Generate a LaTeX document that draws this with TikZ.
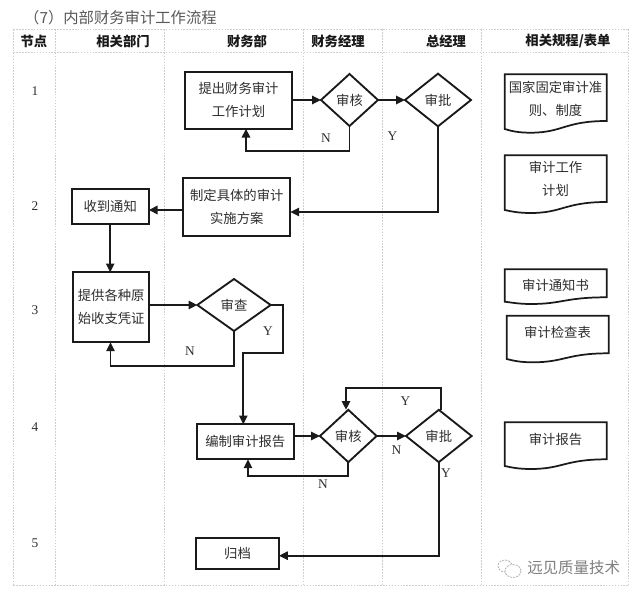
\documentclass[tikz,border=0pt]{standalone}
\usepackage{fontspec}
\setmainfont{Noto Sans CJK SC}
\newfontfamily\serifen{Liberation Serif}
\usetikzlibrary{arrows.meta,shapes.geometric,calc}
\definecolor{ink}{HTML}{1A1A1A}
\definecolor{txt}{HTML}{2E2E2E}
\definecolor{grid}{HTML}{CDCDCD}
\newcommand\docshape[6]{%
  \pgfmathsetmacro\dxa{#3-42}\pgfmathsetmacro\dxb{#1+58}\pgfmathsetmacro\dxc{#1+26}%
  \pgfmathsetmacro\dxd{#1+14}\pgfmathsetmacro\dxe{#1+7}\pgfmathsetmacro\dye{#6-1.5}%
  \draw[docline] (#1,#2) -- (#3,#2) -- (#3,#4)
    .. controls (\dxa,#4) and (\dxb,#6) .. (\dxc,#6)
    .. controls (\dxd,#6) and (\dxe,\dye) .. (#1,#5) -- cycle;}
\tikzset{
  gridline/.style={draw=grid,line width=0.45pt,dash pattern=on 1.2pt off 1pt},
  boxnode/.style={draw=ink,line width=1.4pt,rectangle,inner sep=0pt,outer sep=0pt,text=txt,
    align=center,font=\fontsize{10}{17.25}\selectfont},
  dia/.style={draw=ink,line width=1.4pt,diamond,inner sep=0pt,outer sep=0pt,text=txt,
    font=\fontsize{10}{12}\selectfont},
  docline/.style={draw=ink,line width=1.3pt,line join=miter},
  doctext/.style={text=txt,align=center,inner sep=0pt,font=\fontsize{10}{17.25}\selectfont},
  head/.style={text=black!90,inner sep=0pt,font=\fontsize{10}{12}\selectfont\bfseries},
  num/.style={text=txt,inner sep=0pt,font=\fontsize{10}{12}\serifen\selectfont},
  lab/.style={text=txt,inner sep=0pt,font=\fontsize{10}{12}\serifen\selectfont},
  flow/.style={draw=ink,line width=1.35pt,-{Triangle[length=6.6pt,width=6.2pt]}}
}
\begin{document}
\begin{tikzpicture}[x=0.75pt,y=-0.75pt]
\useasboundingbox (0,0) rectangle (640,596);
\fill[white] (0,0) rectangle (640,596);
% table grid
\foreach \gx in {13.3,55.7,164.3,303.3,382.3,481.7,628.3}
  \draw[gridline] (\gx,29.3) -- (\gx,585.3);
\foreach \gy in {29.3,52.3,585.3}
  \draw[gridline] (13.3,\gy) -- (628.3,\gy);
% title
\node[anchor=east,inner sep=0pt,text=black!65,font=\fontsize{11.5}{14}\selectfont] (title) at (217,18) {（7）内部财务审计工作流程};
% header
\node[head] (h1) at (34,41) {节点};
\node[head] (h2) at (123,41) {相关部门};
\node[head] (h3) at (247,41) {财务部};
\node[head] (h4) at (338,41) {财务经理};
\node[head] (h5) at (446,41) {总经理};
\node[head] (h6) at (568,41) {相关规程/表单};
% node numbers
\node[num] (n1) at (35,91) {1};
\node[num] (n2) at (35,206) {2};
\node[num] (n3) at (35,310) {3};
\node[num] (n4) at (35,427) {4};
\node[num] (n5) at (35,543) {5};
% process boxes
\node[boxnode,minimum width=80.25pt,minimum height=42.75pt] (A) at (238.5,100.2) {提出财务审计\\工作计划};
\node[boxnode,minimum width=80.25pt,minimum height=43.5pt] (D) at (236.8,206.7) {制定具体的审计\\实施方案};
\node[boxnode,minimum width=57.75pt,minimum height=26.25pt] (E) at (110.2,206.8) {收到通知};
\node[boxnode,minimum width=57.25pt,minimum height=52.5pt] (F) at (111.2,307.3) {提供各种原\\始收支凭证};
\node[boxnode,minimum width=72.5pt,minimum height=26.25pt] (H) at (245.3,441.8) {编制审计报告};
\node[boxnode,minimum width=62.25pt,minimum height=23.75pt] (K) at (237.5,553.5) {归档};
% decisions
\node[dia,minimum width=42.75pt,minimum height=39pt] (B) at (349.5,100) {审核};
\node[dia,minimum width=49.5pt,minimum height=39.5pt] (C) at (438,100) {审批};
\node[dia,minimum width=55pt,minimum height=39pt] (G) at (234,305) {审查};
\node[dia,minimum width=42.5pt,minimum height=39.25pt] (I) at (348.3,436) {审核};
\node[dia,minimum width=49.25pt,minimum height=39.25pt] (J) at (438.8,436) {审批};
% helper coordinates
\coordinate (rA) at (246,151);
\coordinate (yD) at (0,212);
\coordinate (yE) at (0,210);
\coordinate (gR) at (283.3,353.3);
\coordinate (gD) at (243.3,353.3);
\coordinate (rF) at (110.5,366);
\coordinate (rH) at (248,476);
\coordinate (jT) at (441,388.3);
\coordinate (iT) at (346,388.3);
\coordinate (yK) at (0,555.7);
% connectors
\draw[flow] (A.east |- B.west) -- (B.west);
\draw[flow] (B.east) -- (C.west);
\draw[flow] (B.south) |- (rA) -- (rA |- A.south);
\draw[flow] (C.south) |- (D.east |- yD);
\draw[flow] (D.west |- yE) -- (E.east |- yE);
\draw[flow] (E.south) -- (E.south |- F.north);
\draw[flow] (F.east |- G.west) -- (G.west);
\draw[flow] (G.east) -| (gR) -- (gD) -- (gD |- H.north);
\draw[flow] (G.south) |- (rF) -- (rF |- F.south);
\draw[flow] (H.east |- I.west) -- (I.west);
\draw[flow] (I.east) -- (J.west);
\draw[flow] (I.south) |- (rH) -- (rH |- H.south);
\draw[flow] (jT |- J.north) -- (jT) -- (iT) -- (iT |- I.north);
\draw[flow] (J.south) |- (K.east |- yK);
% connector labels
\node[lab] (l1) at (326,138) {N};
\node[lab] (l2) at (392.5,136) {Y};
\node[lab] (l3) at (190,351) {N};
\node[lab] (l4) at (268,331) {Y};
\node[lab] (l5) at (405.5,401) {Y};
\node[lab] (l6) at (396.5,450) {N};
\node[lab] (l7) at (323,484) {N};
\node[lab] (l8) at (446,473) {Y};
% documents
\docshape{504.7}{74.3}{606.7}{121}{129}{132.7}
\docshape{504.7}{155.3}{606.7}{202}{210}{213}
\docshape{504.7}{269.3}{606.7}{297.3}{301.7}{304}
\docshape{506.7}{315.7}{608.7}{353.3}{359}{362.3}
\docshape{504.7}{422.3}{606.7}{459.3}{466}{469}
\node[doctext] (d1) at (555.5,98.5) {国家固定审计准\\则、制度};
\node[doctext] (d2) at (555.5,179) {审计工作\\计划};
\node[doctext] (d3) at (555.5,285.5) {审计通知书};
\node[doctext] (d4) at (557.5,332) {审计检查表};
\node[doctext] (d5) at (555.5,439) {审计报告};
% watermark
\draw[black!30,line width=0.6pt,dash pattern=on 1.5pt off 0.8pt] (505,566) ellipse (7 and 6);
\draw[black!30,line width=0.6pt,dash pattern=on 1.5pt off 0.8pt,fill=white] (513,571) ellipse (8 and 6.5);
\node[anchor=west,inner sep=0pt,text=black!50,font=\fontsize{11.6}{14}\selectfont] (wm) at (527,568) {远见质量技术};
\end{tikzpicture}
\end{document}
